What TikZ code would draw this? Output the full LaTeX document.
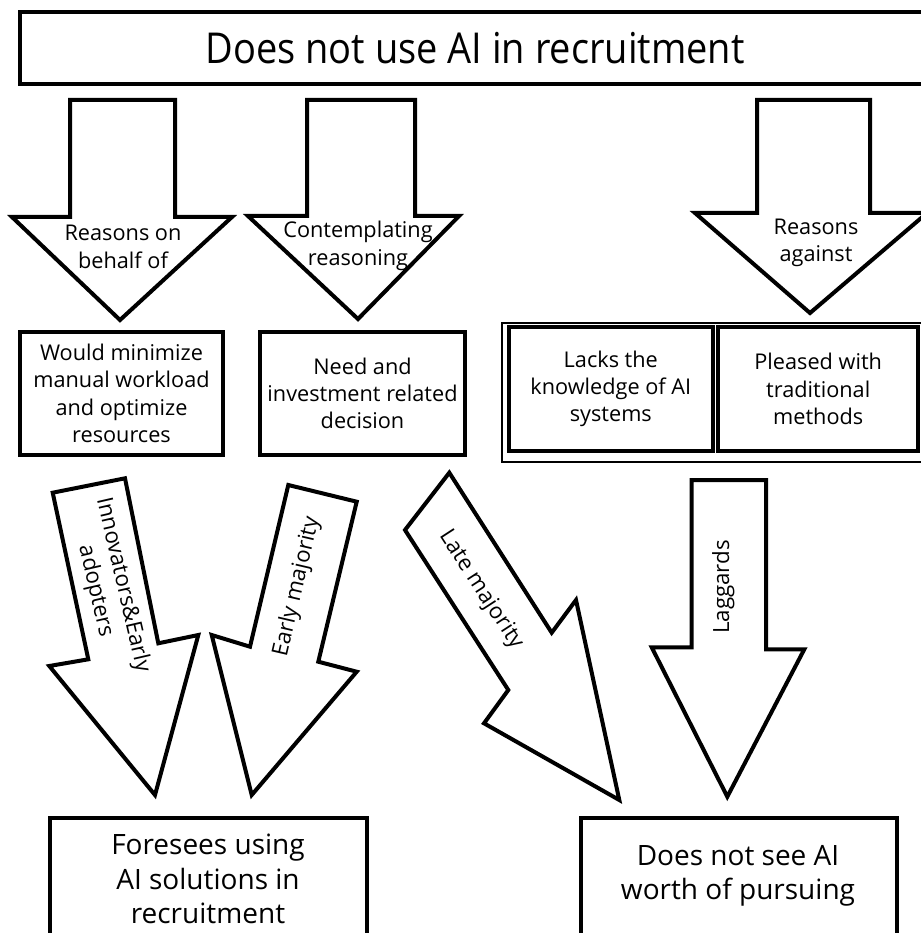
\documentclass[tikz,border=0pt]{standalone}
\usepackage{fontspec}
\setmainfont{Open Sans}
\begin{document}
\begin{tikzpicture}[x=1pt,y=-1pt,
  blockarrow/.style={draw=black, line width=4pt, fill=white, line join=miter},
  box/.style={draw=black, line width=4pt, fill=white, align=center, inner sep=0pt},
  thinbox/.style={draw=black, line width=2.6pt, inner sep=0pt},
  lbl/.style={align=center, inner sep=0pt, font=\fontsize{21.7}{27.3}\selectfont},
  rotlbl/.style={align=center, inner sep=0pt, font=\fontsize{22.3}{28}\selectfont},
  biglbl/.style={align=center, inner sep=0pt, font=\fontsize{28}{34.5}\selectfont},
  titlelbl/.style={inner sep=0pt, font=\fontsize{38}{40}\selectfont}
]
\useasboundingbox (0,0) rectangle (920,933);

% heading box
\node[box, minimum width=910, minimum height=72] (top) at (475,48) {};
\node[titlelbl] (toptext) at (475,48) {\scalebox{1}[1.12]{Does not use AI in recruitment}};

% three arrows leading down from the heading
\draw[blockarrow] (70,100) -- (175,100) -- (175,217) -- (232,217) -- (120,320)
  -- (12,217) -- (70,217) -- cycle;
\node[lbl] (behalf) at (123,247) {Reasons on\\behalf of};

\draw[blockarrow] (307,100) -- (415,100) -- (415,216) -- (459,216) -- (358,319)
  -- (248,216) -- (307,216) -- cycle;
\node[lbl] (contemp) at (358,246) {Contemplating\\reasoning};

\draw[blockarrow] (757,100) -- (870,100) -- (870,213) -- (927,213) -- (810,313)
  -- (695,213) -- (757,213) -- cycle;
\node[lbl] (against) at (816,243) {Reasons\\against};

% second row of boxes
\node[box, minimum width=203, minimum height=123, lbl] (minimize) at (121.5,393.5)
  {Would minimize\\manual workload\\and optimize\\resources};
\node[box, minimum width=205, minimum height=123, lbl] (need) at (362.5,393.5)
  {Need and\\investment related\\decision};
\node[thinbox, minimum width=433, minimum height=139] (reasons) at (718.5,392.5) {};
\node[box, minimum width=203.7, minimum height=124, lbl] (lacks) at (610.8,389)
  {Lacks the\\knowledge of AI\\systems};
\node[box, minimum width=199.7, minimum height=124, lbl] (pleased) at (818.2,389)
  {Pleased with\\traditional\\methods};

% adopter arrows
\draw[blockarrow] (52.7,492.7) -- (125,478.3) -- (158.3,643.3) -- (198.3,635)
  -- (155,795) -- (49.3,666) -- (88.3,659.3) -- cycle;
\node[rotlbl, rotate=-77] (innov) at (109,588) {Innovators\&Early\\adopters};

\draw[blockarrow] (288.3,485) -- (356.7,501.7) -- (318.3,661.7) -- (356.7,671.7)
  -- (251.7,795) -- (211.7,635) -- (250,646.7) -- cycle;
\node[rotlbl, rotate=77] (early) at (297,587) {Early majority};

\draw[blockarrow] (449.3,472.7) -- (551.7,632.7) -- (576,600) -- (619.3,800)
  -- (484,723.3) -- (508.3,690) -- (405,530) -- cycle;
\node[rotlbl, rotate=-57] (late) at (481,590) {Late majority};

\draw[blockarrow] (691.7,480) -- (766,480) -- (766,649.3) -- (804.3,649.3)
  -- (727.3,796.7) -- (651.7,647.3) -- (691.7,647.3) -- cycle;
\node[rotlbl, rotate=90] (lag) at (723.3,587) {Laggards};

% outcome boxes
\node[box, minimum width=317, minimum height=127] (foresees) at (208.5,881.5) {};
\node[biglbl] (foretext) at (208,879) {Foresees using\\AI solutions in\\recruitment};
\node[box, minimum width=316, minimum height=127] (notsee) at (739,881.5) {};
\node[biglbl] (notseetext) at (738,876) {Does not see AI\\worth of pursuing};
\end{tikzpicture}
\end{document}
